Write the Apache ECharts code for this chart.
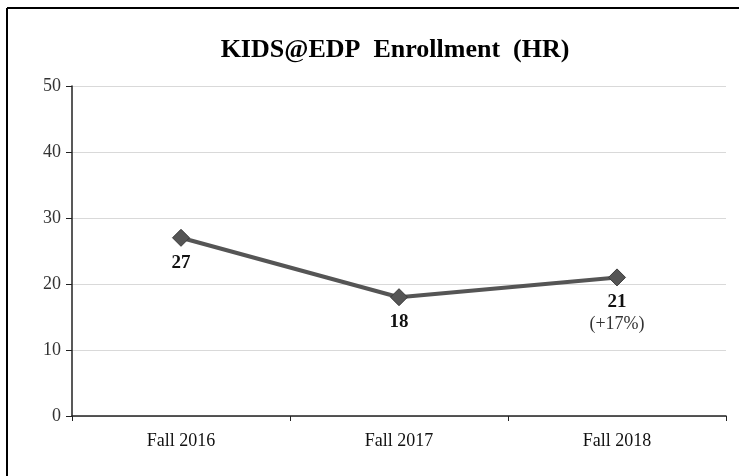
<!DOCTYPE html>
<html><head><meta charset="utf-8">
<script src="https://cdn.jsdelivr.net/npm/echarts@6/dist/echarts.min.js"></script>
<style>html,body{margin:0;padding:0;background:#fff}#c{width:739px;height:476px}</style>
</head><body><div id="c"></div>
<script>
var categories = ['Fall 2016', 'Fall 2017', 'Fall 2018'];
var enrollment = [27, 18, 21];
var changeNotes = ['', '', '(+17%)'];
var yTicks = [0, 10, 20, 30, 40, 50];

var chart = echarts.init(document.getElementById('c'));
var font = '"Liberation Serif", "DejaVu Serif", serif';
chart.setOption({
  animation: false,
  backgroundColor: '#fff',
  title: {
    text: 'KIDS@EDP  Enrollment  (HR)',
    left: 390, top: 32, textAlign: 'center',
    textStyle: { fontFamily: font, fontSize: 26, fontWeight: 'bold', color: '#000' }
  },
  graphic: [
    { type: 'line', shape: { x1: 7, y1: 8, x2: 739, y2: 8 }, style: { stroke: '#000', lineWidth: 2 }, silent: true },
    { type: 'line', shape: { x1: 7, y1: 8, x2: 7, y2: 476 }, style: { stroke: '#000', lineWidth: 2 }, silent: true }
  ],
  grid: { left: 72, right: 13, top: 86, bottom: 60, containLabel: false },
  xAxis: {
    type: 'category', data: categories, boundaryGap: true,
    axisLine: { lineStyle: { color: '#222', width: 1.5 } },
    axisTick: { show: true, length: 5, lineStyle: { color: '#222' } },
    axisLabel: { fontFamily: font, fontSize: 18, color: '#111', margin: 16 }
  },
  yAxis: {
    type: 'value', min: yTicks[0], max: yTicks[yTicks.length - 1], interval: 10,
    axisLine: { show: true, lineStyle: { color: '#222', width: 1.5 } },
    axisTick: { show: true, length: 6, lineStyle: { color: '#222' } },
    splitLine: { lineStyle: { color: '#d9d9d9', width: 1 } },
    axisLabel: { fontFamily: font, fontSize: 18, color: '#333', margin: 11 }
  },
  series: [{
    type: 'line', data: enrollment,
    symbol: 'diamond', symbolSize: 17,
    lineStyle: { color: '#555', width: 4 },
    itemStyle: { color: '#555', borderColor: '#3a3a3a', borderWidth: 1 },
    label: {
      show: true, position: 'bottom', distance: 5,
      formatter: function (p) {
        var n = changeNotes[p.dataIndex];
        return '{v|' + p.value + '}' + (n ? '\n{n|' + n + '}' : '');
      },
      rich: {
        v: { fontFamily: font, fontSize: 19, fontWeight: 'bold', color: '#111', lineHeight: 22 },
        n: { fontFamily: font, fontSize: 18, color: '#333', lineHeight: 22 }
      }
    }
  }]
});
</script></body></html>
